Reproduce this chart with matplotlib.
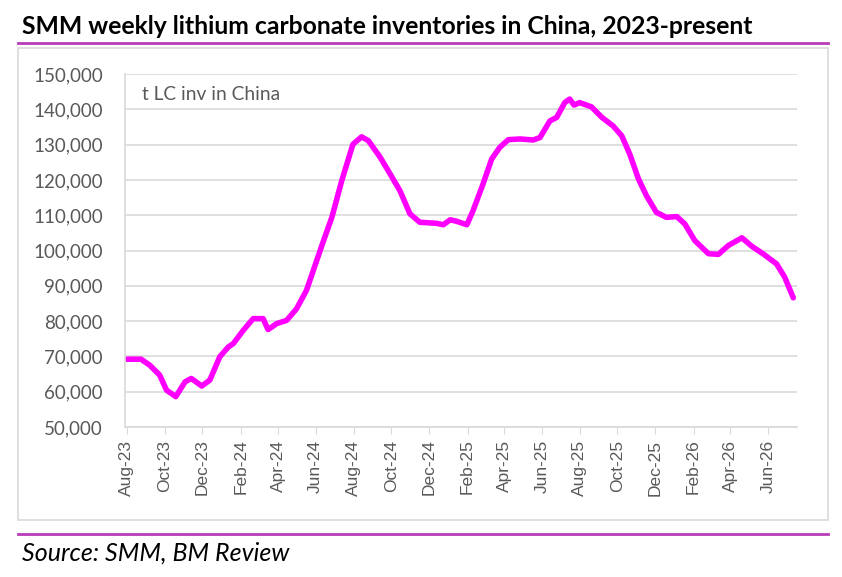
import matplotlib
matplotlib.use("Agg")
import matplotlib.pyplot as plt
import matplotlib.dates as mdates
from matplotlib.lines import Line2D
from matplotlib.patches import Rectangle
import pandas as pd

dates = [
    "2023-08-01", "2023-08-24", "2023-09-07", "2023-09-23", "2023-10-04", "2023-10-19",
    "2023-11-03", "2023-11-13", "2023-11-30", "2023-12-13", "2023-12-29", "2024-01-12",
    "2024-01-20", "2024-02-05", "2024-02-21", "2024-03-08", "2024-03-16", "2024-03-30",
    "2024-04-15", "2024-05-01", "2024-05-17", "2024-06-12", "2024-06-27", "2024-07-13",
    "2024-07-31", "2024-08-14", "2024-08-25", "2024-09-13", "2024-09-29", "2024-10-15",
    "2024-10-31", "2024-11-16", "2024-12-13", "2024-12-24", "2025-01-04", "2025-01-14",
    "2025-01-31", "2025-02-10", "2025-02-26", "2025-03-12", "2025-03-25", "2025-04-08",
    "2025-04-27", "2025-05-18", "2025-05-29", "2025-06-14", "2025-06-25", "2025-07-08",
    "2025-07-16", "2025-07-23", "2025-08-01", "2025-08-20", "2025-09-06", "2025-09-24",
    "2025-10-08", "2025-10-21", "2025-11-04", "2025-11-17", "2025-12-03", "2025-12-19",
    "2026-01-05", "2026-01-18", "2026-02-03", "2026-02-25", "2026-03-13", "2026-03-29",
    "2026-04-20", "2026-05-06", "2026-05-24", "2026-06-15", "2026-06-28", "2026-07-12",
]
inventory = [
    69200, 69200, 67500, 64700, 60450, 58600,
    62800, 63750, 61600, 63300, 69900, 72700,
    73650, 77400, 80700, 80700, 77600, 79300,
    80200, 83500, 88700, 102000, 109400, 119800,
    130100, 132200, 131100, 126400, 121700, 116900,
    110400, 108000, 107700, 107300, 108700, 108300,
    107300, 111300, 118800, 125900, 129200, 131400,
    131600, 131300, 132000, 136700, 137700, 141900,
    142900, 141200, 141900, 140700, 137700, 135300,
    132500, 127300, 120300, 115500, 110800, 109400,
    109600, 107500, 102800, 99100, 98900, 101400,
    103600, 101200, 99100, 96200, 92500, 86600,
]
title = "SMM weekly lithium carbonate inventories in China, 2023-present"
series_label = "t LC inv in China"
source = "Source: SMM, BM Review"
y_ticks = [50000, 60000, 70000, 80000, 90000, 100000, 110000, 120000, 130000, 140000, 150000]

x = pd.to_datetime(dates)

W, H = 842, 577
fig = plt.figure(figsize=(W / 100, H / 100), dpi=100)
fig.patch.set_facecolor("white")

def fx(px):
    return px / W

def fy(py):
    return 1 - py / H

# outer chart border
fig.add_artist(Rectangle((fx(18), fy(520)), fx(828) - fx(18), fy(48) - fy(520),
                         transform=fig.transFigure, fill=False, edgecolor="#d9d9d9", linewidth=1.2))
# magenta rules
rule_color = "#b83cb8"
fig.add_artist(Line2D([fx(18), fx(828)], [fy(43), fy(43)], transform=fig.transFigure,
                      color=rule_color, linewidth=2))
fig.add_artist(Line2D([fx(18), fx(828)], [fy(534), fy(534)], transform=fig.transFigure,
                      color=rule_color, linewidth=2))

fig.text(fx(22), fy(27), title, fontsize=17.8, fontweight="bold", family="Lato",
         va="center", ha="left", color="black")
fig.text(fx(22), fy(553), source, fontsize=18, style="italic", family="Lato",
         va="center", ha="left", color="black")

ax = fig.add_axes([fx(125), fy(427), fx(797) - fx(125), fy(74) - fy(427)])
ax.plot(x, inventory, color="#ff00ff", linewidth=4, solid_capstyle="round", solid_joinstyle="round")

ax.set_ylim(50000, 150000)
ax.set_yticks(y_ticks)
ax.yaxis.set_major_formatter(matplotlib.ticker.FuncFormatter(lambda v, p: f"{int(v):,}"))
ax.set_xlim(pd.Timestamp("2023-07-29"), pd.Timestamp("2026-07-18"))
ax.xaxis.set_major_locator(mdates.MonthLocator(bymonth=[2, 4, 6, 8, 10, 12]))
ax.xaxis.set_major_formatter(mdates.DateFormatter("%b-%y"))

ax.grid(axis="y", color="#d9d9d9", linewidth=1.2)
ax.set_axisbelow(True)
for s in ["top", "right"]:
    ax.spines[s].set_visible(False)
ax.spines["left"].set_color("#d9d9d9")
ax.spines["bottom"].set_color("#d9d9d9")
ax.spines["left"].set_linewidth(1.2)
ax.spines["bottom"].set_linewidth(1.2)

ax.tick_params(axis="y", length=0, pad=16, labelsize=13.5, labelcolor="#595959")
ax.tick_params(axis="x", length=5, color="#d9d9d9", direction="out", labelsize=12.5,
               labelcolor="#595959", pad=4, labelrotation=90)
for lab in ax.get_yticklabels():
    lab.set_family("Lato")
for lab in ax.get_xticklabels():
    lab.set_family("Liberation Sans")

fig.text(fx(142), fy(94), series_label, fontsize=13.8, family="Lato", color="#595959",
         va="center", ha="left")

fig.savefig("out.png", dpi=100, facecolor="white")
